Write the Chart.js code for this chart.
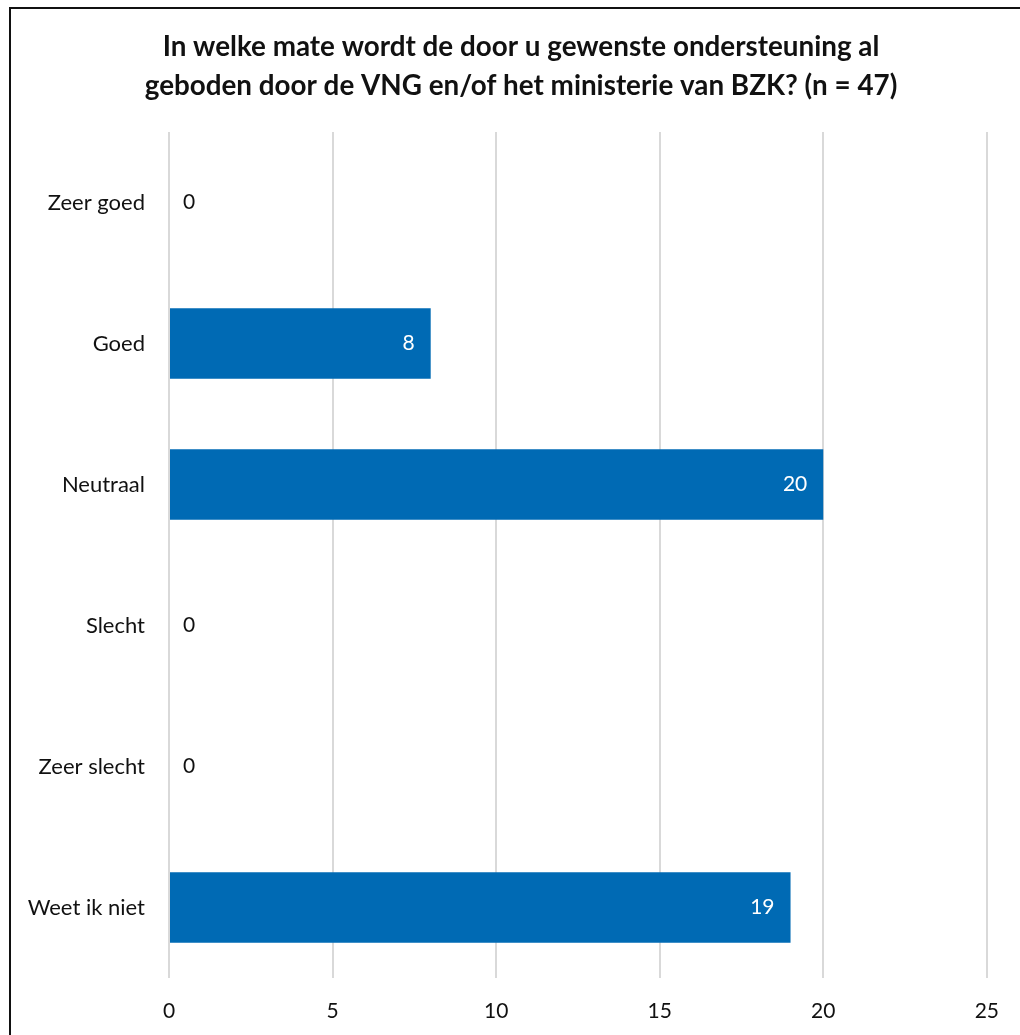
<!DOCTYPE html>
<html><head><meta charset="utf-8">
<script src="https://cdn.jsdelivr.net/npm/chart.js@4/dist/chart.umd.min.js"></script>
<style>
html,body{margin:0;padding:0;background:#fff;overflow:hidden;}
#frame{position:absolute;left:9px;top:7px;width:1100px;height:1100px;border:2px solid #111;box-sizing:border-box;}
#wrap{position:absolute;left:0;top:0;width:1020px;height:1035px;}
</style></head>
<body>
<div id="frame"></div>
<div id="wrap"><canvas id="c" width="1020" height="1035"></canvas></div>
<script>
const titleLines = ["In welke mate wordt de door u gewenste ondersteuning al", "geboden door de VNG en/of het ministerie van BZK? (n = 47)"];
const categories = ["Zeer goed", "Goed", "Neutraal", "Slecht", "Zeer slecht", "Weet ik niet"];
const values = [0, 8, 20, 0, 0, 19];
const xTicks = [0, 5, 10, 15, 20, 25];

const FONT = "Lato, 'Open Sans', sans-serif";

const titlePlugin = {
  id: 'customTitle',
  afterDraw(chart) {
    const ctx = chart.ctx;
    ctx.save();
    ctx.font = "bold 27.8px " + FONT;
    ctx.fillStyle = '#111';
    ctx.textAlign = 'center';
    ctx.textBaseline = 'middle';
    const cx = 521;
    titleLines.forEach((t, i) => ctx.fillText(t, cx, 47 + i * 39));
    ctx.restore();
  }
};

const labelPlugin = {
  id: 'barLabels',
  afterDatasetsDraw(chart) {
    const ctx = chart.ctx;
    const meta = chart.getDatasetMeta(0);
    ctx.save();
    ctx.font = "21px " + FONT;
    ctx.textBaseline = 'middle';
    meta.data.forEach((bar, i) => {
      const v = values[i];
      if (v === 0) {
        ctx.fillStyle = '#111';
        ctx.textAlign = 'left';
        ctx.fillText(String(v), bar.base + 14, bar.y);
      } else {
        ctx.fillStyle = '#fff';
        ctx.textAlign = 'right';
        ctx.fillText(String(v), bar.x - 16, bar.y);
      }
    });
    ctx.restore();
  }
};

new Chart(document.getElementById('c'), {
  type: 'bar',
  data: {
    labels: categories,
    datasets: [{
      data: values,
      backgroundColor: '#006AB4',
      borderWidth: 0,
      barPercentage: 0.5,
      categoryPercentage: 1.0
    }]
  },
  options: {
    indexAxis: 'y',
    responsive: false,
    animation: false,
    devicePixelRatio: 1,
    layout: { padding: { left: 12, right: 32, top: 132, bottom: 0 } },
    plugins: {
      legend: { display: false },
      tooltip: { enabled: false },
      title: { display: false }
    },
    scales: {
      x: {
        min: 0, max: 25,
        afterBuildTicks(scale) { scale.ticks = xTicks.map(v => ({ value: v })); },
        grid: { color: '#d9d9d9', lineWidth: 2, drawTicks: false },
        border: { display: false },
        ticks: { color: '#111', font: { family: FONT, size: 21 }, padding: 21 },
        afterFit(scale) { scale.height = 57; }
      },
      y: {
        grid: { display: false },
        border: { display: false },
        ticks: { color: '#111', font: { family: FONT, size: 22 }, padding: 16 },
        afterFit(scale) { scale.width = 157; }
      }
    }
  },
  plugins: [labelPlugin, titlePlugin]
});
</script>
</body></html>
